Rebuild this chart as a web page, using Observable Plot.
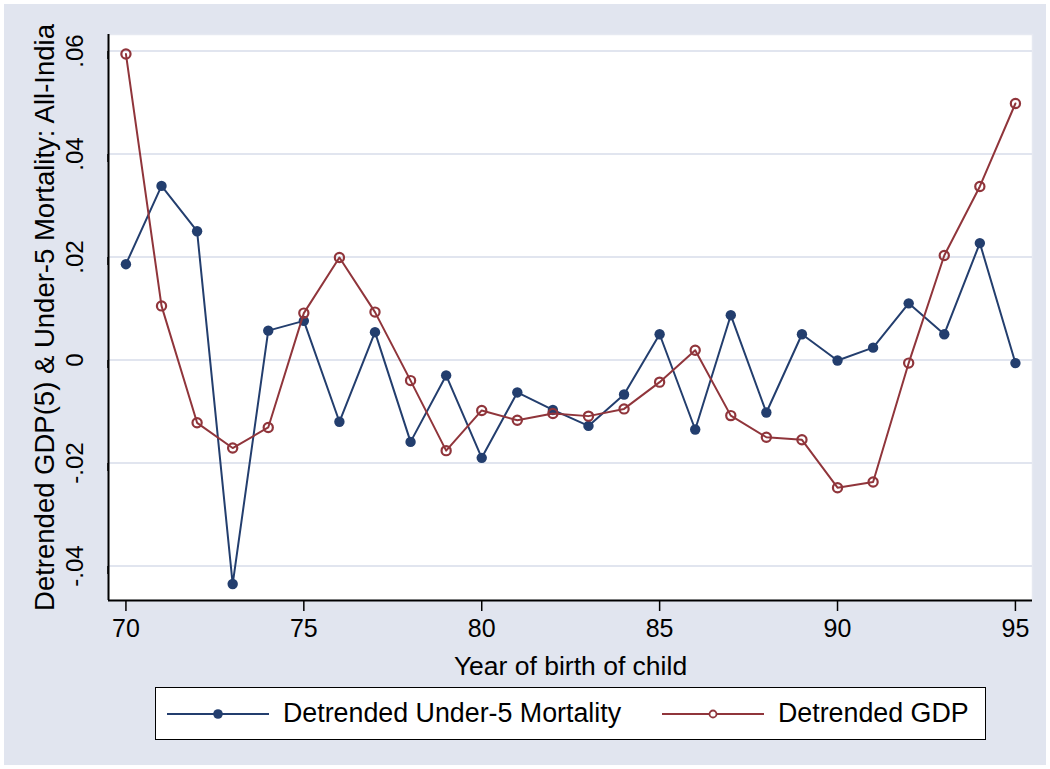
<!DOCTYPE html>
<html>
<head>
<meta charset="utf-8">
<script src="https://cdn.jsdelivr.net/npm/d3@7"></script>
<script src="https://cdn.jsdelivr.net/npm/@observablehq/plot@0.6"></script>
<style>
  html, body { margin: 0; padding: 0; background: #ffffff; }
  #wrap { position: relative; width: 1050px; height: 769px; background: #ffffff; overflow: hidden; font-family: "Liberation Sans", Arial, sans-serif; }
  #bg { position: absolute; left: 4px; top: 4px; right: 4px; bottom: 4px; background: #e1e5ef; }
  #chart { position: absolute; left: 0; top: 0; }
  #legend { position: absolute; left: 155px; top: 687px; width: 829px; height: 51px; background: #ffffff; border: 1.5px solid #000; }
  .item { position: absolute; top: 0; height: 51px; display: flex; align-items: center; font-size: 26.8px; color: #000; white-space: nowrap; }
  .item svg { margin-right: 14px; }
</style>
</head>
<body>
<div id="wrap">
  <div id="bg"></div>
  <div id="chart"></div>
  <div id="legend"></div>
</div>
<script>
// ---- data ----
const years = [70,71,72,73,74,75,76,77,78,79,80,81,82,83,84,85,86,87,88,89,90,91,92,93,94,95];
const mortality = [0.0186,0.0338,0.0250,-0.0435,0.0057,0.0076,-0.0120,0.0054,-0.0159,-0.0030,-0.0190,-0.0063,-0.0097,-0.0128,-0.0067,0.0050,-0.0135,0.0087,-0.0102,0.0050,-0.0001,0.0024,0.0110,0.0050,0.0227,-0.0006];
const gdp = [0.0594,0.0105,-0.0122,-0.0171,-0.0131,0.0091,0.0199,0.0093,-0.0040,-0.0176,-0.0098,-0.0117,-0.0104,-0.0109,-0.0095,-0.0043,0.0019,-0.0108,-0.0150,-0.0155,-0.0248,-0.0237,-0.0006,0.0203,0.0337,0.0498];
const xTicks = [70,75,80,85,90,95];
const yTicks = [-0.04,-0.02,0,0.02,0.04,0.06];
const yTickLabels = ["-.04","-.02","0",".02",".04",".06"];
const seriesNames = ["Detrended Under-5 Mortality","Detrended GDP"];
const xTitle = "Year of birth of child";
const yTitle = "Detrended GDP(5) & Under-5 Mortality: All-India";

const blue = "#233e6e";
const red = "#90353b";

const mData = years.map((y,i) => ({year: y, value: mortality[i]}));
const gData = years.map((y,i) => ({year: y, value: gdp[i]}));

const chart = Plot.plot({
  width: 1050,
  height: 680,
  marginLeft: 108,
  marginRight: 18,
  marginTop: 34,
  marginBottom: 80,
  style: { background: "transparent", fontFamily: "Liberation Sans, Arial, sans-serif", fontSize: "22px", color: "#000" },
  x: { domain: [69.51, 95.48] },
  y: { domain: [-0.0467, 0.0632] },
  marks: [
    Plot.frame({ fill: "#ffffff", stroke: "#e6e9f1", strokeWidth: 1.5 }),
    Plot.gridY(yTicks, { stroke: "#e1e5ef", strokeOpacity: 1, strokeWidth: 2 }),
    Plot.line(mData, { x: "year", y: "value", stroke: blue, strokeWidth: 2 }),
    Plot.dot(mData, { x: "year", y: "value", r: 5.2, fill: blue, stroke: "none" }),
    Plot.line(gData, { x: "year", y: "value", stroke: red, strokeWidth: 2 }),
    Plot.dot(gData, { x: "year", y: "value", r: 4.6, fill: "none", stroke: red, strokeWidth: 2.2 }),
    Plot.axisX({ ticks: xTicks, tickFormat: d => String(d), tickSize: 11, tickPadding: 8, strokeWidth: 1.5, stroke: "#000", fontSize: 25, label: xTitle, labelAnchor: "center", labelOffset: 74, labelArrow: "none" }),
    Plot.axisY({ ticks: yTicks, tickFormat: d => yTickLabels[yTicks.indexOf(d)], tickSize: 8, tickPadding: 25, strokeWidth: 1.5, stroke: "#000", fontSize: 24, rotate: -90, textAnchor: "middle", label: yTitle, labelAnchor: "center", labelOffset: 74, labelArrow: "none" }),
    Plot.ruleX([69.51], { stroke: "#000", strokeWidth: 2 }),
    Plot.ruleY([-0.0467], { stroke: "#000", strokeWidth: 2 })
  ]
});
// enlarge axis titles
chart.querySelectorAll("g[aria-label='x-axis label'] text").forEach(t => t.setAttribute("font-size", "26.5px"));
chart.querySelectorAll("g[aria-label='y-axis label'] text").forEach(t => t.setAttribute("font-size", "27.5px"));
document.getElementById("chart").appendChild(chart);

// ---- legend ----
const legend = document.getElementById("legend");
const legendItems = [
  { name: seriesNames[0], color: blue, filled: true, left: 11 },
  { name: seriesNames[1], color: red, filled: false, left: 506 }
];
for (const it of legendItems) {
  const div = document.createElement("div");
  div.className = "item";
  div.style.left = it.left + "px";
  const ns = "http://www.w3.org/2000/svg";
  const svg = document.createElementNS(ns, "svg");
  svg.setAttribute("width", 102);
  svg.setAttribute("height", 20);
  const ln = document.createElementNS(ns, "line");
  ln.setAttribute("x1", 0); ln.setAttribute("x2", 102);
  ln.setAttribute("y1", 10); ln.setAttribute("y2", 10);
  ln.setAttribute("stroke", it.color); ln.setAttribute("stroke-width", 2);
  svg.appendChild(ln);
  const c = document.createElementNS(ns, "circle");
  c.setAttribute("cx", 51); c.setAttribute("cy", 10);
  if (it.filled) { c.setAttribute("r", 4.8); c.setAttribute("fill", it.color); }
  else { c.setAttribute("r", 3.5); c.setAttribute("fill", "white"); c.setAttribute("stroke", it.color); c.setAttribute("stroke-width", 1.8); }
  svg.appendChild(c);
  div.appendChild(svg);
  const span = document.createElement("span");
  span.textContent = it.name;
  div.appendChild(span);
  legend.appendChild(div);
}
</script>
</body>
</html>
